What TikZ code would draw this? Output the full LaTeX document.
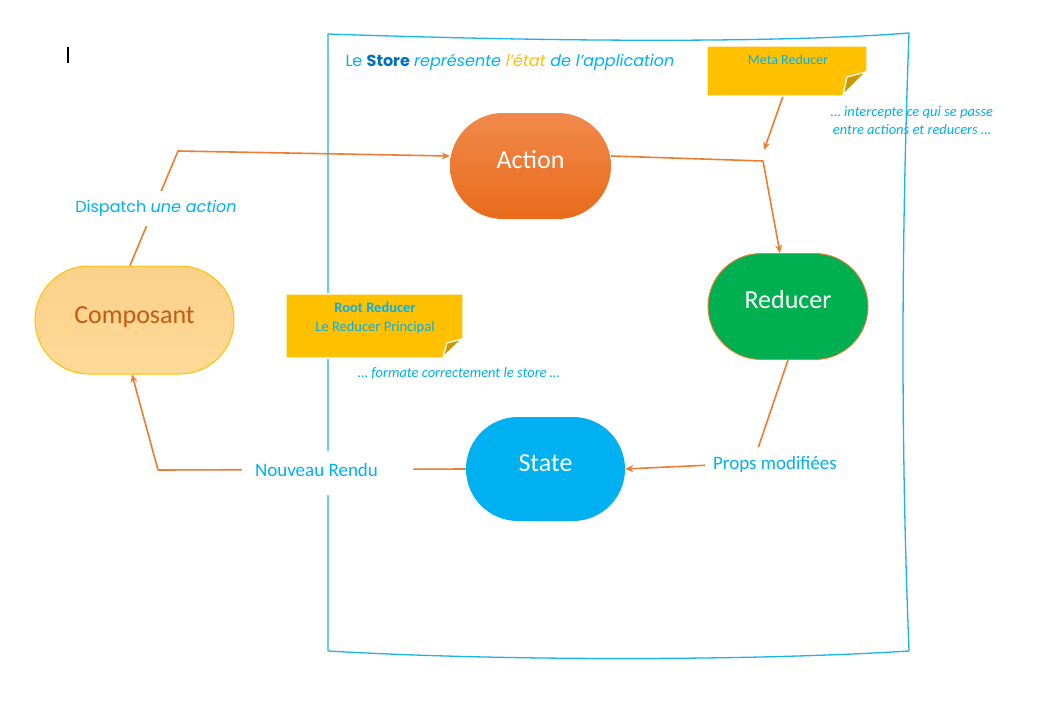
\documentclass[tikz,border=0pt]{standalone}
\usepackage{fontspec}
\setmainfont{Carlito}
\newfontfamily\gothic{Poppins}
\usetikzlibrary{arrows.meta}
\definecolor{cyanx}{HTML}{00B0F0}
\definecolor{framex}{HTML}{1AB3EE}
\definecolor{orangex}{HTML}{ED7D31}
\definecolor{darkbluex}{HTML}{0070C0}
\definecolor{goldx}{HTML}{FFC000}
\definecolor{foldx}{HTML}{C99A05}
\definecolor{greenx}{HTML}{00B050}
\definecolor{compotxt}{HTML}{C55A11}
\definecolor{compotop}{HTML}{FCD18A}
\definecolor{compobot}{HTML}{FEDA97}
\definecolor{acttop}{HTML}{F1894B}
\definecolor{actbot}{HTML}{E86B1B}
\pgfdeclarelayer{bg}
\pgfdeclarelayer{lines}
\pgfsetlayers{bg,lines,main}
\begin{document}
\begin{tikzpicture}[x=1pt,y=-1pt,
  conn/.style={draw=orangex,line width=1.6pt},
  arr/.style={conn,-{Stealth[length=8pt,width=7pt]}},
  blob/.style={inner sep=0pt,text=white,font=\fontsize{26}{30}\selectfont,text height=16.7pt},
  lbl/.style={fill=white,text=cyanx,font=\fontsize{19}{22}\selectfont,inner sep=0pt},
  notebox/.style={inner sep=0pt},
  notefill/.style={fill=goldx,draw=white,line width=1.5pt},
  fold/.style={fill=foldx,draw=white,line width=1.2pt,line join=round},
  notetxt/.style={text=cyanx,font=\fontsize{14}{16}\selectfont,inner sep=0pt},
  ]
\useasboundingbox (0,0) rectangle (1048,725);

% frame (the store)
\begin{pgfonlayer}{bg}
\fill[white] (0,0) rectangle (1048,725);
\draw[framex,line width=1.3pt,line join=round] (328,34) -- (328,651)
  .. controls (500,661) and (750,661) .. (909,651)
  .. controls (901,450) and (901,250) .. (909,33)
  .. controls (780,43) and (560,42) .. (328,34) -- cycle;
\end{pgfonlayer}

% cursor mark
\draw[black,line width=1.2pt] (68,47) -- (68,63);

% title
\node[inner sep=0pt,text=cyanx,font=\gothic\fontsize{16}{18}\selectfont] (title) at (510,62)
  {Le \textbf{\color{darkbluex}Store} \itshape représente {\color{goldx}l’état} de l’application};

% Meta reducer note
\node[notebox,minimum width=160pt,minimum height=50pt] (meta) at (787,71) {};
\fill[notefill] (meta.north west) -- (meta.north east) -- (867,71) -- (843,96) -- (meta.south west) -- cycle;
\fill[fold] (843,95) -- (847,77) -- (866,72) -- cycle;
\node[notetxt] (metatxt) at (788,60) {Meta Reducer};
\node[notetxt,font=\fontsize{14.5}{18}\selectfont\itshape,align=center] (intercept) at (912,121)
  {… intercepte ce qui se passe\\entre actions et reducers …};

% Root reducer note
\node[notebox,minimum width=177pt,minimum height=64pt] (root) at (374.5,326) {};
\fill[notefill] (root.north west) -- (root.north east) -- (463,338) -- (443,358) -- (root.south west) -- cycle;
\fill[fold] (443,357) -- (447,343) -- (462,339) -- cycle;
\node[notetxt,font=\fontsize{14.5}{19}\selectfont,align=center] (roottxt) at (375,318)
  {\textbf{Root Reducer}\\Le Reducer Principal};
\node[notetxt,font=\fontsize{14.5}{16}\selectfont\itshape] (formate) at (459,373)
  {… formate correctement le store …};

% main nodes
\node[blob,minimum width=161pt,minimum height=106pt,rounded corners=53pt,
  top color=acttop,bottom color=actbot,text depth=12pt] (action) at (530.5,166) {Action};
\node[blob,minimum width=160pt,minimum height=106pt,rounded corners=53pt,
  fill=greenx,draw=orangex,line width=0.9pt,text depth=13pt] (reducer) at (788,306.5) {Reducer};
\node[blob,minimum width=159pt,minimum height=104pt,rounded corners=52pt,
  fill=cyanx,text depth=12pt] (state) at (545.5,469) {State};
\node[blob,minimum width=199pt,minimum height=108pt,rounded corners=54pt,
  top color=compotop,bottom color=compobot,draw=goldx,line width=1pt,
  text=compotxt,text depth=10pt] (compo) at (134.5,320) {Composant};

% connector labels
\node[lbl,font=\gothic\fontsize{16}{20}\selectfont,minimum height=35pt,inner xsep=2pt] (dispatch) at (156,208)
  {Dispatch \itshape une action};
\node[lbl,minimum width=171pt,minimum height=44pt,text depth=6pt] (nouveau) at (327.5,473)
  {Nouveau Rendu\kern22pt};
\node[lbl,minimum height=34pt,inner xsep=8pt] (props) at (775,464) {Props modifiées};

% bends
\coordinate (c1) at (158,470);
\coordinate (c2) at (178,151);
\coordinate (c3) at (763,161);
\coordinate (c4) at (753,463);
\coordinate (c5) at (764,150);

% connectors
\begin{pgfonlayer}{lines}
\draw[arr,line join=round] ([xshift=-4.5pt]compo.north) -- (c2) -- ([yshift=10pt]action.west);
\draw[arr,line join=round] ([yshift=10pt]action.east) -- (c3) -- ([xshift=-8pt]reducer.north);
\draw[arr] ([xshift=-4pt]meta.south) -- (c5);
\draw[arr,line join=round] (reducer.south) -- (c4) -- (state.east);
\draw[arr,line join=round] (state.west) -- (c1) -- ([xshift=-2.5pt]compo.south);
\end{pgfonlayer}
\end{tikzpicture}
\end{document}
